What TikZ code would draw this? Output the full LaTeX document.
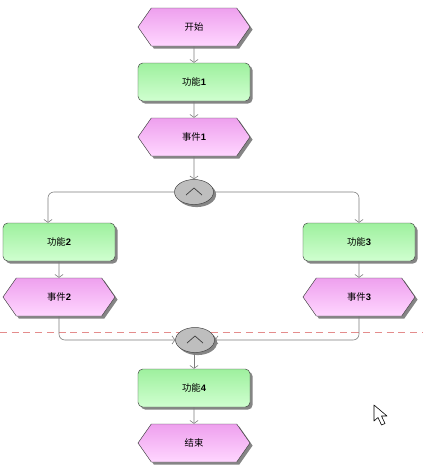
\documentclass[tikz,border=0pt]{standalone}
\usepackage{fontspec}
\setmainfont{Liberation Sans}
\newfontfamily\cjk{Noto Sans CJK SC}
\usetikzlibrary{shapes.symbols,shapes.geometric,shadows,arrows.meta}
\definecolor{rosa}{RGB}{238,160,238}
\definecolor{rosachiaro}{RGB}{255,214,255}
\definecolor{verde}{RGB}{158,240,158}
\definecolor{verdechiaro}{RGB}{208,255,208}
\definecolor{grigio}{RGB}{125,125,125}
\definecolor{grigioand}{RGB}{190,190,190}
\definecolor{rossotratt}{RGB}{228,140,140}
\newcommand{\etich}[2]{{\cjk #1}{\bfseries #2}}
\tikzset{
	ombra/.style={drop shadow={shadow xshift=2.2pt, shadow yshift=-2.2pt, fill=black!60, opacity=0.8}},
	evento/.style={signal, signal to=west and east, signal pointer angle=110,
		minimum width=3.36cm, minimum height=1.14cm, inner sep=0pt, draw=black!75,
		top color=rosa, bottom color=rosachiaro, ombra, font=\fontsize{8}{10}\selectfont},
	funzione/.style={rectangle, rounded corners=4pt, minimum width=3.36cm,
		minimum height=1.14cm, inner sep=0pt, draw=black!75,
		top color=verde, bottom color=verdechiaro, ombra, font=\fontsize{8}{10}\selectfont},
	nodoand/.style={ellipse, minimum width=1.17cm, minimum height=0.75cm, inner sep=0pt,
		draw=black!75, fill=grigioand, ombra,
		path picture={\draw[black!75, line width=0.6pt]
			([shift={(-8,3)}]path picture bounding box.center) --
			([shift={(0,-4)}]path picture bounding box.center) --
			([shift={(8,3)}]path picture bounding box.center);}},
	freccia/.style={draw=grigio, line width=0.5pt, -{Straight Barb[length=2.5pt,width=7pt]}}
}
\begin{document}
\begin{tikzpicture}[x=0.03cm, y=-0.03cm]
	\useasboundingbox (0,0) rectangle (423,469);
	% linea tratteggiata
	\draw[rossotratt, dashed, dash pattern=on 6pt off 4pt, line width=0.5pt] (0,332) -- (423,332);
	
	% colonna centrale
	\node[evento] (inizio) at (194,27) {\cjk 开始};
	\node[funzione] (f1) at (194,82) {\etich{功能}{1}};
	\node[evento] (e1) at (194,137) {\etich{事件}{1}};
	\node[nodoand] (and1) at (194,192) {};
	
	% rami
	\node[funzione] (f2) at (59,242) {\etich{功能}{2}};
	\node[evento] (e2) at (59,297) {\etich{事件}{2}};
	\node[funzione] (f3) at (359,242) {\etich{功能}{3}};
	\node[evento] (e3) at (359,297) {\etich{事件}{3}};
	
	\node[nodoand] (and2) at (195,340) {};
	\node[funzione] (f4) at (194,388) {\etich{功能}{4}};
	\node[evento] (fine) at (194,443) {\cjk 结束};
	
	% frecce
	\draw[freccia] (inizio) -- (f1);
	\draw[freccia] (f1) -- (e1);
	\draw[freccia] (e1) -- (and1);
	\draw[freccia, rounded corners=5pt] (and1.west) -| ([xshift=-0.33cm]f2.north);
	\draw[freccia, rounded corners=5pt] (and1.east) -| (f3.north);
	\draw[freccia] (f2) -- (e2);
	\draw[freccia] (f3) -- (e3);
	\draw[freccia, rounded corners=5pt] (e2.south) |- (and2.west);
	\draw[freccia, rounded corners=5pt] (e3.south) |- (and2.east);
	\draw[freccia] (and2.south -| f4.north) -- (f4);
	\draw[freccia] (f4) -- (fine);
	
	% puntatore
	\draw[black, fill=white, line width=0.5pt, line join=round] (374,405) -- (374,421) -- (378,417.5) -- (381.5,425) -- (385,423.5) -- (381.5,416) -- (387,416) -- cycle;
\end{tikzpicture}
\end{document}
